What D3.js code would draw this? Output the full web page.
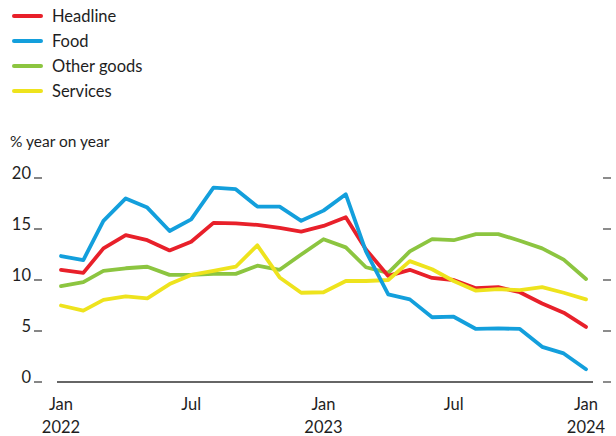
<!DOCTYPE html>
<html>
<head>
<meta charset="utf-8">
<script src="https://cdn.jsdelivr.net/npm/d3@7"></script>
<style>
  body { margin: 0; background: #fff; }
  text { font-family: Lato, "Open Sans", sans-serif; fill: #1e1e1e; }
</style>
</head>
<body>
<div id="chart"></div>
<script>
const months = d3.range(25).map(i => new Date(2022, i, 1));

const headline = [11.0, 10.7, 13.1, 14.4, 13.9, 12.9, 13.75, 15.6, 15.55, 15.4, 15.1, 14.75, 15.3, 16.15,
  13.0, 10.4, 11.0, 10.2, 10.0, 9.2, 9.3, 8.8, 7.7, 6.8, 5.4];
const food = [12.35, 11.95, 15.8, 18.0, 17.1, 14.8, 15.95, 19.05, 18.9, 17.2, 17.2, 15.8, 16.8, 18.4,
  12.8, 8.6, 8.1, 6.35, 6.4, 5.2, 5.25, 5.2, 3.45, 2.8, 1.25];
const otherGoods = [9.4, 9.8, 10.9, 11.15, 11.3, 10.5, 10.5, 10.6, 10.6, 11.4, 11.0, 12.5, 14.0, 13.2,
  11.25, 10.7, 12.8, 14.0, 13.9, 14.5, 14.5, 13.85, 13.1, 12.0, 10.1];
const services = [7.5, 7.0, 8.05, 8.4, 8.2, 9.6, 10.5, 10.9, 11.3, 13.4, 10.25, 8.75, 8.8, 9.9,
  9.9, 10.0, 11.85, 11.05, 9.9, 8.95, 9.1, 9.0, 9.3, 8.75, 8.1];

const yTicks = [0, 5, 10, 15, 20];
const xTicks = [new Date(2022, 0, 1), new Date(2022, 6, 1), new Date(2023, 0, 1), new Date(2023, 6, 1), new Date(2024, 0, 1)];

const series = [
  { name: "Headline", values: headline, color: "#e8202a" },
  { name: "Food", values: food, color: "#139fdc" },
  { name: "Other goods", values: otherGoods, color: "#8cc540" },
  { name: "Services", values: services, color: "#eee31d" }
];
const drawOrder = ["Other goods", "Headline", "Services", "Food"];

const width = 616, height = 436;

const svg = d3.select("#chart").append("svg")
  .attr("width", width)
  .attr("height", height);

const x = d3.scaleTime()
  .domain([months[0], months[24]])
  .range([61, 586]);

const y = d3.scaleLinear()
  .domain([0, 20])
  .range([382, 178]);

// legend
const legend = svg.append("g");
series.forEach((s, i) => {
  const ly = 16 + i * 25;
  legend.append("line")
    .attr("x1", 14).attr("x2", 41)
    .attr("y1", ly).attr("y2", ly)
    .attr("stroke", s.color)
    .attr("stroke-width", 4)
    .attr("stroke-linecap", "round");
  legend.append("text")
    .attr("x", 52).attr("y", ly + 6)
    .style("font-size", "16.5px")
    .text(s.name);
});

svg.append("text")
  .attr("x", 10).attr("y", 147)
  .style("font-size", "15.5px")
  .text("% year on year");

// y ticks: left labels with dashes, right dashes
yTicks.forEach(t => {
  svg.append("text")
    .attr("x", 31).attr("y", y(t) + 1)
    .attr("text-anchor", "end")
    .style("font-size", "16.5px")
    .text(t);
  svg.append("line")
    .attr("x1", 34).attr("x2", 42)
    .attr("y1", y(t)).attr("y2", y(t))
    .attr("stroke", "#444").attr("stroke-width", 1.3);
  svg.append("line")
    .attr("x1", 603).attr("x2", 611)
    .attr("y1", y(t)).attr("y2", y(t))
    .attr("stroke", "#666").attr("stroke-width", 1.5);
});

// baseline
svg.append("line")
  .attr("x1", 57).attr("x2", 593)
  .attr("y1", y(0)).attr("y2", y(0))
  .attr("stroke", "#333").attr("stroke-width", 1.5);

// x axis labels
const xAxis = svg.append("g");
xTicks.forEach(d => {
  const t = xAxis.append("text")
    .attr("x", x(d))
    .attr("y", 410)
    .attr("text-anchor", "middle")
    .style("font-size", "16.5px");
  t.append("tspan").attr("x", x(d)).text(d3.timeFormat("%b")(d));
  if (d.getMonth() === 0) {
    t.append("tspan").attr("x", x(d)).attr("dy", 23).text(d.getFullYear());
  }
});

const line = d3.line()
  .x((d, i) => x(months[i]))
  .y(d => y(d));

drawOrder.forEach(name => {
  const s = series.find(e => e.name === name);
  svg.append("path")
    .datum(s.values)
    .attr("d", line)
    .attr("fill", "none")
    .attr("stroke", s.color)
    .attr("stroke-width", 3.8)
    .attr("stroke-linejoin", "round")
    .attr("stroke-linecap", "round");
});
</script>
</body>
</html>
